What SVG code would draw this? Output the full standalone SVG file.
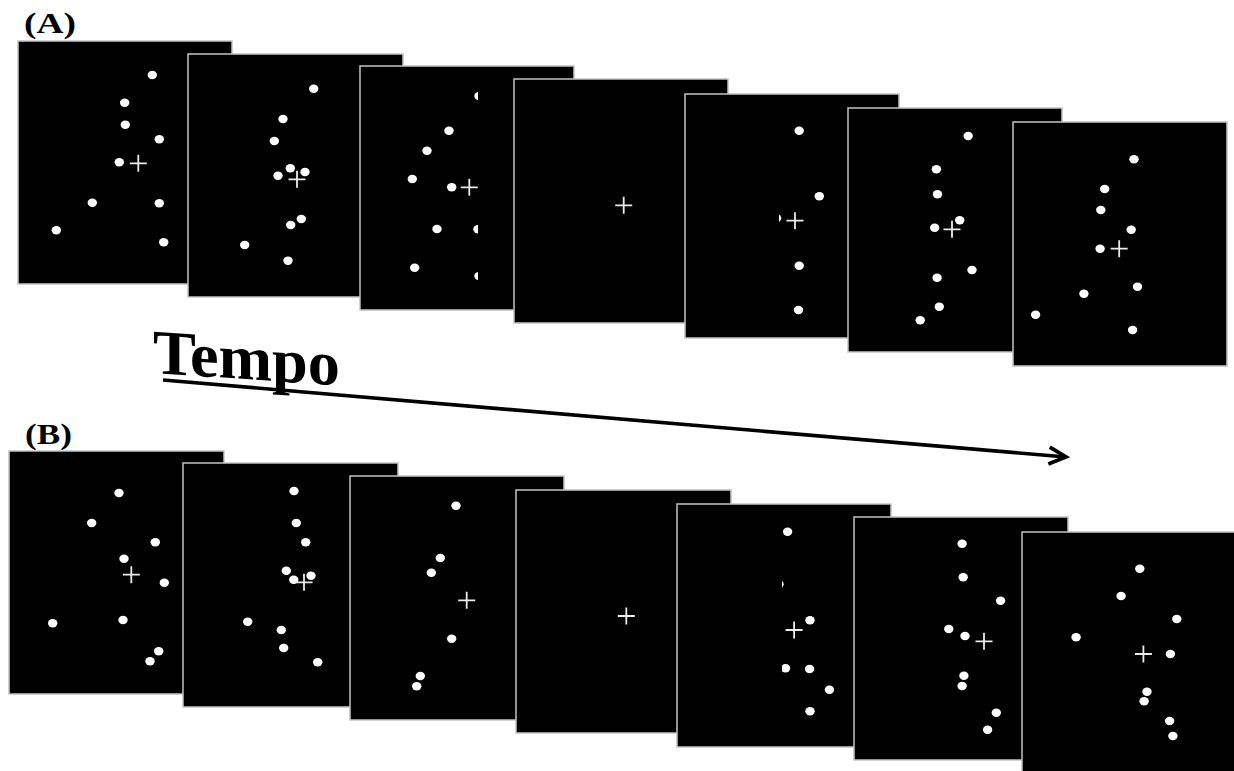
<svg xmlns="http://www.w3.org/2000/svg" xmlns:xlink="http://www.w3.org/1999/xlink" width="1234" height="771" viewBox="0 0 1234 771">
<style>
.panel{fill:#000;stroke:#c4c4c4;stroke-width:1.5}
.dot{fill:#fff}
.fix{stroke:#ececec;stroke-width:1.8;fill:none}
.lbl{font-family:"Liberation Serif","Times New Roman",serif;font-weight:bold;fill:#000}
</style>
<defs>
<path id="fx" d="M-8.5 0H8.5M0 -8.5V8.5"/>
<ellipse id="d" cx="0" cy="0" rx="4.7" ry="4.2"/>
<clipPath id="cA3"><rect x="360" y="66" width="118" height="244"/></clipPath>
<clipPath id="cA5"><rect x="779" y="94" width="120" height="244"/></clipPath>
<clipPath id="cB5"><rect x="782" y="504" width="109" height="243"/></clipPath>
<marker id="ah" markerUnits="userSpaceOnUse" markerWidth="26" markerHeight="26" refX="19" refY="11" orient="auto" viewBox="0 0 26 22">
<path d="M2 2.5L19 11L2 19.5" fill="none" stroke="#000" stroke-width="3.8" stroke-linejoin="miter"/>
</marker>
</defs>
<rect width="1234" height="771" fill="#fff"/>

<text class="lbl" x="24" y="33" font-size="30" textLength="52" lengthAdjust="spacingAndGlyphs">(A)</text>
<text class="lbl" x="25" y="444" font-size="29" textLength="47" lengthAdjust="spacingAndGlyphs">(B)</text>

<g id="A1">
<rect class="panel" x="18" y="41" width="214" height="243"/>
<g class="dot">
<use href="#d" x="152.3" y="75"/><use href="#d" x="124.7" y="102.7"/><use href="#d" x="125.3" y="124.7"/><use href="#d" x="159.3" y="139.3"/><use href="#d" x="119.3" y="162.3"/><use href="#d" x="92.3" y="202.7"/><use href="#d" x="159.3" y="203.3"/><use href="#d" x="56.3" y="230.3"/><use href="#d" x="163.7" y="242.3"/>
</g>
<use href="#fx" class="fix" x="138.3" y="163.3"/>
</g>

<g id="A2">
<rect class="panel" x="188" y="54" width="215" height="243"/>
<g class="dot">
<use href="#d" x="313.7" y="88.7"/><use href="#d" x="283" y="119"/><use href="#d" x="274.3" y="141"/><use href="#d" x="290.3" y="168.3"/><use href="#d" x="278" y="175.7"/><use href="#d" x="305" y="172"/><use href="#d" x="301.3" y="219"/><use href="#d" x="290.7" y="225"/><use href="#d" x="244.7" y="245"/><use href="#d" x="288" y="260.7"/>
</g>
<use href="#fx" class="fix" x="297" y="179.3"/>
</g>

<g id="A3">
<rect class="panel" x="360" y="66" width="214" height="244"/>
<g clip-path="url(#cA3)">
<g class="dot">
<use href="#d" x="479" y="96"/><use href="#d" x="449" y="130.7"/><use href="#d" x="427" y="150.7"/><use href="#d" x="412.3" y="179"/><use href="#d" x="451.7" y="187.3"/><use href="#d" x="437" y="229"/><use href="#d" x="478" y="229.3"/><use href="#d" x="414.7" y="267.7"/><use href="#d" x="479" y="276"/>
</g>
<use href="#fx" class="fix" x="469.3" y="187.3"/>
</g>
</g>

<g id="A4">
<rect class="panel" x="514" y="79" width="214" height="244"/>
<use href="#fx" class="fix" x="623.7" y="205.3"/>
</g>

<g id="A5">
<rect class="panel" x="685" y="94" width="214" height="244"/>
<g clip-path="url(#cA5)">
<g class="dot">
<use href="#d" x="799.2" y="130.7"/><use href="#d" x="819.3" y="196.3"/><use href="#d" x="776.5" y="218.3"/><use href="#d" x="799.2" y="265.7"/><use href="#d" x="798.5" y="310"/>
</g>
<use href="#fx" class="fix" x="795" y="220.7"/>
</g>
</g>

<g id="A6">
<rect class="panel" x="848" y="108" width="214" height="244"/>
<g class="dot">
<use href="#d" x="968.2" y="136"/><use href="#d" x="936.4" y="169.3"/><use href="#d" x="937.5" y="194.3"/><use href="#d" x="959.7" y="220.3"/><use href="#d" x="934.7" y="227.7"/><use href="#d" x="972" y="270"/><use href="#d" x="937.1" y="277.7"/><use href="#d" x="939.3" y="306.7"/><use href="#d" x="920.2" y="320.3"/>
</g>
<use href="#fx" class="fix" x="952" y="229.3"/>
</g>

<g id="A7">
<rect class="panel" x="1013" y="122" width="214" height="244"/>
<g class="dot">
<use href="#d" x="1134" y="159.3"/><use href="#d" x="1104.7" y="189"/><use href="#d" x="1100.8" y="210"/><use href="#d" x="1131.2" y="229.7"/><use href="#d" x="1100.1" y="248.7"/><use href="#d" x="1137.5" y="286.7"/><use href="#d" x="1083.9" y="293.7"/><use href="#d" x="1035.6" y="314.7"/><use href="#d" x="1132.6" y="330"/>
</g>
<use href="#fx" class="fix" x="1119.2" y="248.7"/>
</g>

<g id="B1">
<rect class="panel" x="9" y="451" width="215" height="243"/>
<g class="dot">
<use href="#d" x="119" y="493"/><use href="#d" x="91.7" y="523"/><use href="#d" x="155.3" y="542.3"/><use href="#d" x="124" y="558.7"/><use href="#d" x="164.3" y="582.7"/><use href="#d" x="52.7" y="623.3"/><use href="#d" x="123" y="620"/><use href="#d" x="158.7" y="651.3"/><use href="#d" x="150" y="661.3"/>
</g>
<use href="#fx" class="fix" x="131.3" y="574.7"/>
</g>

<g id="B2">
<rect class="panel" x="183" y="463" width="215" height="244"/>
<g class="dot">
<use href="#d" x="294" y="491"/><use href="#d" x="296.3" y="523"/><use href="#d" x="305.7" y="542.3"/><use href="#d" x="286.3" y="570.7"/><use href="#d" x="293.7" y="579.7"/><use href="#d" x="311" y="575.7"/><use href="#d" x="247.7" y="621.7"/><use href="#d" x="281.3" y="630"/><use href="#d" x="283.7" y="648"/><use href="#d" x="317.7" y="662.3"/>
</g>
<use href="#fx" class="fix" x="304" y="582.3"/>
</g>

<g id="B3">
<rect class="panel" x="350" y="476" width="214" height="244"/>
<g class="dot">
<use href="#d" x="456" y="505.7"/><use href="#d" x="440.3" y="558"/><use href="#d" x="431.3" y="572.7"/><use href="#d" x="451.7" y="638.7"/><use href="#d" x="420.3" y="676"/><use href="#d" x="416.7" y="686.3"/>
</g>
<use href="#fx" class="fix" x="466.7" y="600.3"/>
</g>

<g id="B4">
<rect class="panel" x="516" y="490" width="215" height="243"/>
<use href="#fx" class="fix" x="626.3" y="616"/>
</g>

<g id="B5">
<rect class="panel" x="677" y="504" width="214" height="243"/>
<g clip-path="url(#cB5)">
<g class="dot">
<use href="#d" x="787.6" y="531.7"/><use href="#d" x="779" y="584.3"/><use href="#d" x="810" y="620.3"/><use href="#d" x="785.5" y="668.3"/><use href="#d" x="809.6" y="669"/><use href="#d" x="829.4" y="689.7"/><use href="#d" x="810" y="711.3"/>
</g>
<use href="#fx" class="fix" x="794.1" y="630"/>
</g>
</g>

<g id="B6">
<rect class="panel" x="854" y="517" width="214" height="243"/>
<g class="dot">
<use href="#d" x="962.1" y="543.7"/><use href="#d" x="963.2" y="577.3"/><use href="#d" x="1000.6" y="600.7"/><use href="#d" x="948.8" y="629"/><use href="#d" x="965" y="636"/><use href="#d" x="963.9" y="675.7"/><use href="#d" x="962.1" y="686"/><use href="#d" x="996.3" y="712.7"/><use href="#d" x="987.6" y="729.7"/>
</g>
<use href="#fx" class="fix" x="984" y="641.3"/>
</g>

<g id="B7">
<rect class="panel" x="1022" y="532" width="216" height="245"/>
<g class="dot">
<use href="#d" x="1139.8" y="568.7"/><use href="#d" x="1121.1" y="596"/><use href="#d" x="1176.8" y="619"/><use href="#d" x="1076.1" y="637.3"/><use href="#d" x="1170.4" y="654"/><use href="#d" x="1147" y="691.7"/><use href="#d" x="1144.1" y="701.3"/><use href="#d" x="1169.6" y="721"/><use href="#d" x="1172.9" y="736"/>
</g>
<use href="#fx" class="fix" x="1143.4" y="654"/>
</g>

<g id="connectors">
<line x1="163" y1="380" x2="1066" y2="457" stroke="#000" stroke-width="3.6" marker-end="url(#ah)"/>
</g>

<g id="tempo">
<text class="lbl" font-size="63" textLength="187" lengthAdjust="spacingAndGlyphs" transform="translate(153,373) skewY(3.8)" x="0" y="0">Tempo</text>
</g>
</svg>
